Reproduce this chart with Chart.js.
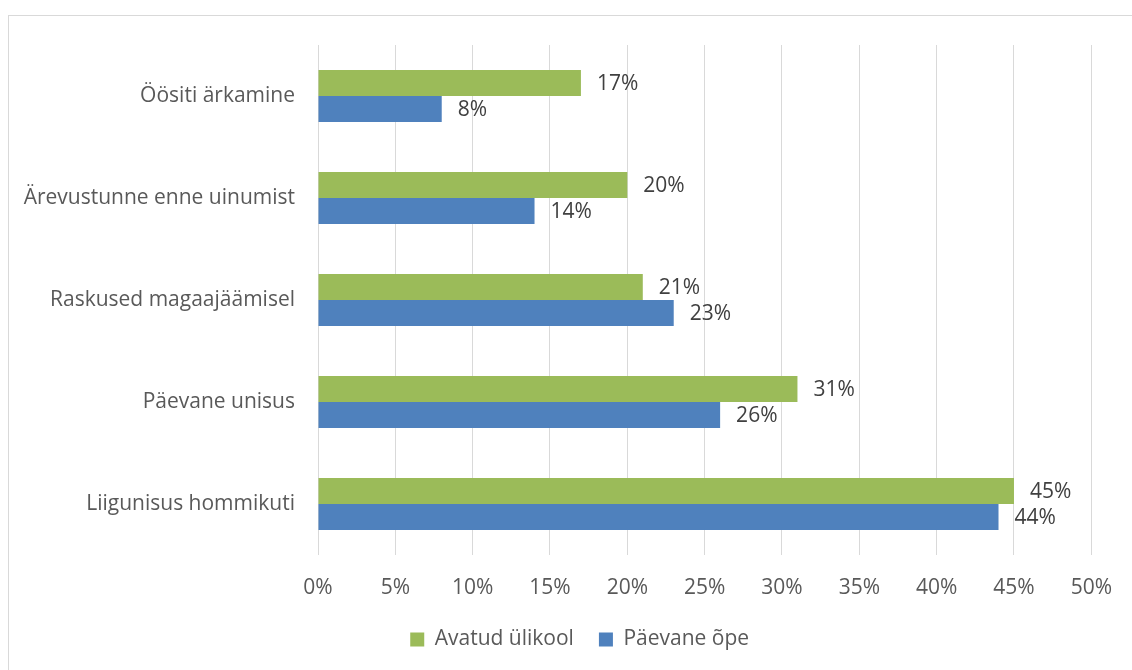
<!DOCTYPE html>
<html>
<head>
<meta charset="utf-8">
<title>Unehäired</title>
<script src="https://cdn.jsdelivr.net/npm/chart.js@4/dist/chart.umd.min.js"></script>
<style>
    html, body { margin: 0; padding: 0; background: #fff; }
    #wrap { position: relative; width: 1132px; height: 670px; }
</style>
</head>
<body>
<div id="wrap"><canvas id="sleep-chart"></canvas></div>
<script>
const categories = [
    'Öösiti ärkamine',
    'Ärevustunne enne uinumist',
    'Raskused magaajäämisel',
    'Päevane unisus',
    'Liigunisus hommikuti'
];
const avatudUlikool = [17, 20, 21, 31, 45];
const paevaneOpe = [8, 14, 23, 26, 44];
const seriesNames = ['Avatud ülikool', 'Päevane õpe'];

const FONT = '"Open Sans", "Noto Sans", sans-serif';
const FONT_SIZE = 21;

// thin frame around the chart
const frame = {
    id: 'frame',
    beforeDraw(chart) {
        const ctx = chart.ctx;
        ctx.save();
        ctx.strokeStyle = '#d9d9d9';
        ctx.lineWidth = 1;
        ctx.strokeRect(8.5, 15.5, 1300, 800);
        ctx.restore();
    }
};

// keep the legend centred a bit right of the canvas middle
const legendSpan = {
    id: 'legendSpan',
    afterLayout(chart) {
        chart.legend.left = 68;
        chart.legend.right = chart.chartArea.right;
    }
};

// value labels to the right of each bar
const barValueLabels = {
    id: 'barValueLabels',
    afterDatasetsDraw(chart) {
        const ctx = chart.ctx;
        ctx.save();
        ctx.font = FONT_SIZE + 'px ' + FONT;
        ctx.fillStyle = '#404040';
        ctx.textAlign = 'left';
        ctx.textBaseline = 'middle';
        chart.data.datasets.forEach((ds, i) => {
            chart.getDatasetMeta(i).data.forEach((bar, j) => {
                ctx.fillText(ds.data[j] + '%', bar.x + 16, bar.y + 1);
            });
        });
        ctx.restore();
    }
};

document.addEventListener('DOMContentLoaded', function () {
    const ctx = document.getElementById('sleep-chart').getContext('2d');

    new Chart(ctx, {
        type: 'bar',
        data: {
            labels: categories,
            datasets: [
                {
                    label: seriesNames[0],
                    data: avatudUlikool,
                    backgroundColor: '#9bbb59',
                    categoryPercentage: 0.51,
                    barPercentage: 1.0,
                },
                {
                    label: seriesNames[1],
                    data: paevaneOpe,
                    backgroundColor: '#4f81bd',
                    categoryPercentage: 0.51,
                    barPercentage: 1.0,
                },
            ],
        },
        options: {
            indexAxis: 'y',
            responsive: true,
            maintainAspectRatio: false,
            animation: false,
            layout: {
                padding: { left: 0, right: 40, top: 45, bottom: 10 },
            },
            plugins: {
                tooltip: { enabled: false },
                legend: {
                    position: 'bottom',
                    labels: {
                        boxWidth: 14,
                        boxHeight: 14,
                        padding: 25,
                        color: '#595959',
                        font: { family: FONT, size: FONT_SIZE },
                    },
                },
            },
            scales: {
                x: {
                    min: 0,
                    max: 50,
                    border: { display: false },
                    grid: {
                        color: '#d9d9d9',
                        lineWidth: 1,
                        drawTicks: false,
                    },
                    ticks: {
                        stepSize: 5,
                        padding: 20,
                        color: '#595959',
                        font: { family: FONT, size: FONT_SIZE },
                        callback: v => v + '%',
                    },
                    afterFit: scale => { scale.height = 49; },
                },
                y: {
                    border: { display: false },
                    grid: { display: false, drawTicks: false },
                    ticks: {
                        padding: 23,
                        color: '#595959',
                        font: { family: FONT, size: FONT_SIZE },
                    },
                    afterFit: scale => { scale.width = 318; },
                },
            },
        },
        plugins: [frame, legendSpan, barValueLabels],
    });
});
</script>
</body>
</html>
